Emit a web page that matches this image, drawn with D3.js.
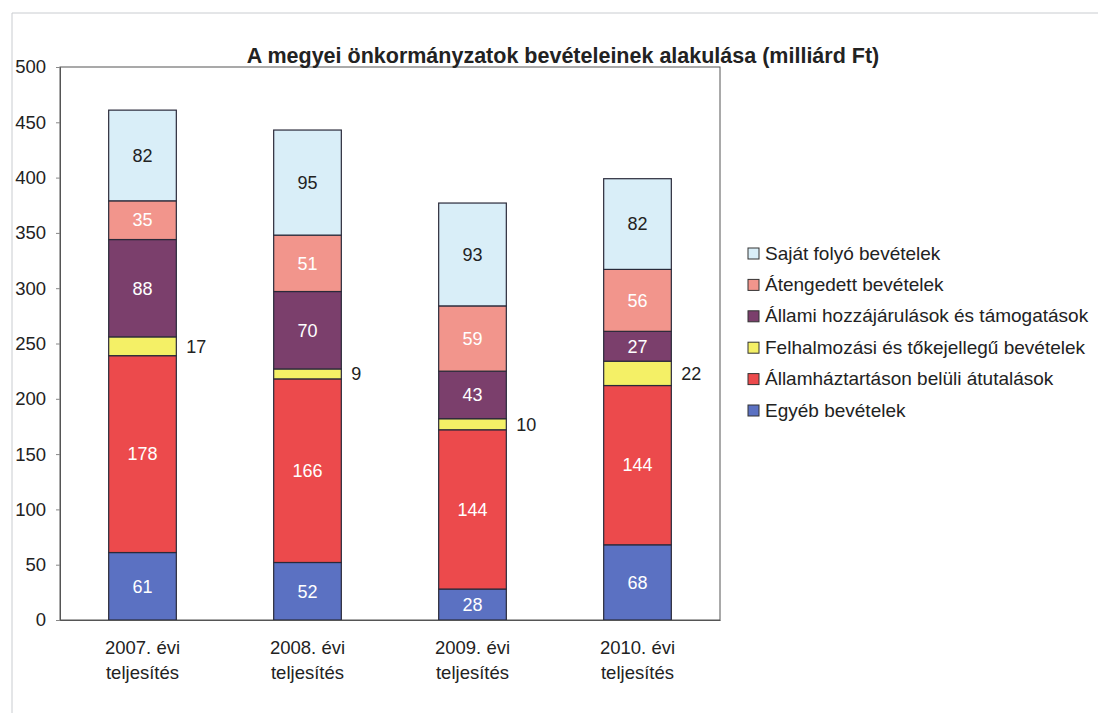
<!DOCTYPE html>
<html>
  <head>
    <meta charset="utf-8">
    <script src="https://d3js.org/d3.v7.min.js"></script>
    <style>
      body { margin: 0; background: #fff; }
      svg { font-family: "Liberation Sans", Arial, sans-serif; }
    </style>
  </head>
  <body>
    <svg width="1098" height="716"></svg>
    <script>
    const years = ["2007", "2008", "2009", "2010"];
    const yearLabels = [["2007. évi", "teljesítés"], ["2008. évi", "teljesítés"], ["2009. évi", "teljesítés"], ["2010. évi", "teljesítés"]];
    // stacked bottom -> top
    const seriesNames = ["Egyéb bevételek", "Államháztartáson belüli átutalások", "Felhalmozási és tőkejellegű bevételek",
                         "Állami hozzájárulások és támogatások", "Átengedett bevételek", "Saját folyó bevételek"];
    const egyeb = [61, 52, 28, 68];
    const athaz = [178, 166, 144, 144];
    const felhalm = [17, 9, 10, 22];
    const allami = [88, 70, 43, 27];
    const atengedett = [35, 51, 59, 56];
    const sajat = [82, 95, 93, 82];
    const yTicks = [0, 50, 100, 150, 200, 250, 300, 350, 400, 450, 500];

    const seriesValues = [egyeb, athaz, felhalm, allami, atengedett, sajat];
    const colors = ["#5b71c2", "#ec4a4c", "#f4f066", "#7b3f6c", "#f2958c", "#d9eef8"];
    const labelColors = ["#fff", "#fff", "#222", "#fff", "#fff", "#222"];

    const svg = d3.select("svg");
    const margin = { left: 60, top: 67, right: 378, bottom: 96 };
    const width = 1098 - margin.left - margin.right,
          height = 716 - margin.top - margin.bottom;

    // outer frame
    svg.append("path")
      .attr("d", "M12,713 L12,13 L1098,13")
      .attr("fill", "none").attr("stroke", "#c9ccd0").attr("stroke-width", 1);

    const g = svg.append("g").attr("transform", `translate(${margin.left},${margin.top})`);

    const x = d3.scaleBand().domain(years).range([0, width]).paddingInner(0.59).paddingOuter(0.295);
    const y = d3.scaleLinear().domain([0, 500]).range([height, 0]);

    const table = years.map((yr, i) => {
      const row = { year: yr };
      seriesNames.forEach((s, j) => row[s] = seriesValues[j][i]);
      return row;
    });
    const stacked = d3.stack().keys(seriesNames)(table);

    // plot frame
    g.append("rect").attr("width", width).attr("height", height)
      .attr("fill", "none").attr("stroke", "#555").attr("stroke-width", 1);

    const layers = g.selectAll(".layer").data(stacked).join("g")
      .attr("fill", (d, i) => colors[i]);

    layers.selectAll("rect").data(d => d).join("rect")
      .attr("x", d => x(d.data.year))
      .attr("y", d => y(d[1]))
      .attr("width", x.bandwidth())
      .attr("height", d => y(d[0]) - y(d[1]))
      .attr("stroke", "#2a2a3a").attr("stroke-width", 1.2);

    // value labels
    stacked.forEach((layer, i) => {
      layer.forEach(d => {
        const v = d[1] - d[0];
        const small = i === 2;
        g.append("text")
          .attr("x", small ? x(d.data.year) + x.bandwidth() + 10 : x(d.data.year) + x.bandwidth() / 2)
          .attr("y", y((d[0] + d[1]) / 2))
          .attr("dy", "0.35em")
          .attr("text-anchor", small ? "start" : "middle")
          .attr("fill", small ? "#222" : labelColors[i])
          .style("font-size", "18px")
          .text(v);
      });
    });

    // y axis
    const yAxis = g.append("g").call(d3.axisLeft(y).tickValues(yTicks).tickSize(4).tickPadding(10));
    yAxis.select(".domain").attr("stroke", "#555");
    yAxis.selectAll(".tick line").attr("stroke", "#888");
    yAxis.selectAll("text").style("font-size", "18.5px").attr("fill", "#222");

    // x axis
    const xAxis = g.append("g").attr("transform", `translate(0,${height})`)
      .call(d3.axisBottom(x).tickSize(0).tickFormat(""));
    xAxis.select(".domain").attr("stroke", "#555");
    const xl = g.append("g");
    years.forEach((yr, i) => {
      const t = xl.append("text")
        .attr("x", x(yr) + x.bandwidth() / 2)
        .attr("y", height + 34)
        .attr("text-anchor", "middle")
        .attr("fill", "#222")
        .style("font-size", "18.5px");
      t.append("tspan").attr("x", x(yr) + x.bandwidth() / 2).text(yearLabels[i][0]);
      t.append("tspan").attr("x", x(yr) + x.bandwidth() / 2).attr("dy", 25).text(yearLabels[i][1]);
    });

    // title
    svg.append("text")
      .attr("x", 563).attr("y", 63)
      .attr("text-anchor", "middle")
      .style("font-size", "21.5px").style("font-weight", "bold")
      .attr("fill", "#222")
      .text("A megyei önkormányzatok bevételeinek alakulása (milliárd Ft)");

    // legend (top -> bottom reversed order)
    const legend = svg.append("g").attr("transform", "translate(748,253)");
    const order = d3.range(seriesNames.length).reverse();
    order.forEach((si, k) => {
      const row = legend.append("g").attr("transform", `translate(0,${k * 31.4})`);
      row.append("rect").attr("x", 0).attr("y", -5).attr("width", 11).attr("height", 11)
        .attr("fill", colors[si]).attr("stroke", "#333").attr("stroke-width", 1);
      row.append("text").attr("x", 17).attr("y", 0).attr("dy", "0.35em")
        .style("font-size", "19px").attr("fill", "#222")
        .text(seriesNames[si]);
    });
    </script>
  </body>
</html>
